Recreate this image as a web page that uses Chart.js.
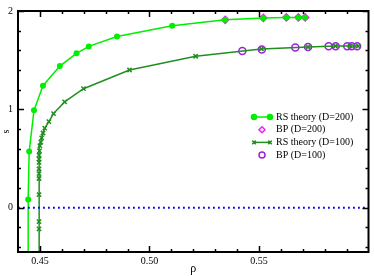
<!DOCTYPE html>
<html>
<head>
<meta charset="utf-8">
<script src="https://cdn.jsdelivr.net/npm/chart.js@4.4.1/dist/chart.umd.min.js"></script>
<style>
  html, body { margin: 0; padding: 0; background: #fff; }
  #wrap { width: 374px; height: 276px; }
</style>
</head>
<body>
<div id="wrap"><canvas id="chart" width="374" height="276"></canvas></div>
<script>
// RS theory, D=200 (first point is the vertical drop below the axis)
const rs200Rho = [0.44462, 0.44464, 0.4451, 0.4473, 0.4514, 0.4591, 0.4667, 0.4723, 0.4852, 0.5104, 0.5346, 0.552, 0.5625, 0.568, 0.5711];
const rs200S   = [-0.7, 0.083, 0.571, 0.99, 1.24, 1.44, 1.57, 1.64, 1.74, 1.85, 1.91, 1.93, 1.935, 1.935, 1.935];

// BP, D=200
const bp200Rho = [0.5346, 0.552, 0.5625, 0.568, 0.5711];
const bp200S   = [1.91, 1.93, 1.935, 1.935, 1.935];

// RS theory, D=100
const rs100Rho = [0.4496, 0.4496, 0.4496, 0.4496, 0.4496, 0.4496, 0.4496, 0.4496, 0.4496, 0.4496, 0.4498, 0.4500, 0.4504, 0.4508, 0.4514, 0.4522, 0.4541, 0.4562, 0.4613, 0.4699, 0.4909, 0.5211, 0.5511, 0.5724, 0.5849, 0.5917, 0.5953];
const rs100S   = [-0.7, -0.214, -0.142, 0.133, 0.297, 0.347, 0.396, 0.462, 0.495, 0.535, 0.578, 0.628, 0.667, 0.71, 0.76, 0.81, 0.875, 0.957, 1.076, 1.21, 1.40, 1.54, 1.614, 1.634, 1.644, 1.644, 1.644];

// BP, D=100
const bp100Rho = [0.5424, 0.5513, 0.5666, 0.5724, 0.5818, 0.585, 0.5903, 0.5923, 0.5948];
const bp100S   = [1.594, 1.608, 1.628, 1.634, 1.641, 1.641, 1.641, 1.641, 1.641];

const xTicks = [0.45, 0.50, 0.55];
const yTicks = [0, 1, 2];

const pts = (xs, ys) => xs.map((x, i) => ({ x: x, y: ys[i] }));
const serif = "'Liberation Serif', 'Times New Roman', serif";

// inward tick marks on all four sides plus the frame
const frameTicks = {
  id: "frameTicks",
  afterDatasetsDraw(chart) {
    const { ctx, chartArea: a, scales } = chart;
    const xs = scales.x, ys = scales.y;
    ctx.save();
    ctx.strokeStyle = "#000";
    ctx.lineWidth = 1.5;
    const tick = (v, len, axis) => {
      if (axis === "x") {
        const px = Math.round(xs.getPixelForValue(v)) + 0.5;
        ctx.beginPath();
        ctx.moveTo(px, a.bottom); ctx.lineTo(px, a.bottom - len);
        ctx.moveTo(px, a.top); ctx.lineTo(px, a.top + len);
        ctx.stroke();
      } else {
        const py = Math.round(ys.getPixelForValue(v)) + 0.5;
        ctx.beginPath();
        ctx.moveTo(a.left, py); ctx.lineTo(a.left + len, py);
        ctx.moveTo(a.right, py); ctx.lineTo(a.right - len, py);
        ctx.stroke();
      }
    };
    for (let i = 45; i < 60; i++) {
      tick(i / 100, i % 5 === 0 ? 6 : 3, "x");
    }
    for (let i = -2; i <= 10; i++) {
      tick(i / 5, i % 5 === 0 ? 6 : 3, "y");
    }
    ctx.lineWidth = 2;
    ctx.strokeRect(a.left, a.top, a.right - a.left, a.bottom - a.top);
    ctx.restore();
  }
};

// legend drawn inside the plot, right side
const innerLegend = {
  id: "innerLegend",
  afterDraw(chart) {
    const ctx = chart.ctx;
    const items = chart.data.datasets.filter(d => d.label);
    ctx.save();
    ctx.font = "10px " + serif;
    ctx.textBaseline = "middle";
    items.forEach((d, i) => {
      const y = 117 + i * 12.7;
      ctx.lineWidth = 1.5;
      if (d.showLine) {
        ctx.strokeStyle = d.borderColor;
        ctx.fillStyle = d.pointBackgroundColor || d.borderColor;
        ctx.beginPath();
        ctx.moveTo(254, y); ctx.lineTo(270, y);
        ctx.stroke();
        const opts = { pointStyle: d.pointStyle, radius: 2.5, borderWidth: 1.5 };
        Chart.helpers.drawPoint(ctx, opts, 254, y);
        Chart.helpers.drawPoint(ctx, opts, 270, y);
      } else {
        ctx.strokeStyle = d.pointBorderColor;
        ctx.fillStyle = "rgba(0,0,0,0)";
        Chart.helpers.drawPoint(ctx, { pointStyle: d.pointStyle, radius: 3, borderWidth: 1.5 }, 262, y);
      }
      ctx.fillStyle = "#000";
      ctx.fillText(d.label, 276, y);
    });
    ctx.restore();
  }
};

const lightGreen = "#00ee00";
const darkGreen = "#1f8f1f";

new Chart(document.getElementById("chart"), {
  type: "scatter",
  data: {
    datasets: [
      {
        label: "",
        data: pts([0.44, 0.6], [0, 0]),
        showLine: true,
        borderColor: "#0000ff",
        borderWidth: 1.8,
        borderDash: [1.8, 3.2],
        pointRadius: 0,
      },
      {
        label: "RS theory (D=200)",
        data: pts(rs200Rho, rs200S),
        showLine: true,
        borderColor: lightGreen,
        backgroundColor: lightGreen,
        borderWidth: 1.5,
        pointStyle: "circle",
        pointRadius: 3,
        pointBackgroundColor: lightGreen,
        pointBorderColor: lightGreen,
        pointBorderWidth: 0,
      },
      {
        label: "BP (D=200)",
        data: pts(bp200Rho, bp200S),
        showLine: false,
        pointStyle: "rectRot",
        pointRadius: 3.5,
        pointBackgroundColor: "rgba(0,0,0,0)",
        pointBorderColor: "#ee22ee",
        pointBorderWidth: 1.5,
      },
      {
        label: "RS theory (D=100)",
        data: pts(rs100Rho, rs100S),
        showLine: true,
        borderColor: darkGreen,
        backgroundColor: darkGreen,
        borderWidth: 1.5,
        pointStyle: "crossRot",
        pointRadius: 3,
        pointBorderColor: darkGreen,
        pointBorderWidth: 1.5,
      },
      {
        label: "BP (D=100)",
        data: pts(bp100Rho, bp100S),
        showLine: false,
        pointStyle: "circle",
        pointRadius: 3.5,
        pointBackgroundColor: "rgba(0,0,0,0)",
        pointBorderColor: "#a020e0",
        pointBorderWidth: 1.5,
      },
    ],
  },
  options: {
    responsive: false,
    animation: false,
    layout: { padding: { top: 4, right: 1, left: 0, bottom: 0 } },
    plugins: {
      legend: { display: false },
      tooltip: { enabled: false },
    },
    scales: {
      x: {
        type: "linear",
        min: 0.44,
        max: 0.6,
        grid: { display: false, drawTicks: false },
        border: { display: false },
        afterBuildTicks: (s) => { s.ticks = xTicks.map(v => ({ value: v })); },
        afterFit: (s) => { s.height = 24; },
        ticks: {
          padding: 3,
          color: "#000",
          font: { family: serif, size: 10 },
          callback: (v) => v.toFixed(2),
        },
        title: {
          display: true,
          text: "ρ",
          color: "#000",
          padding: 0,
          font: { family: serif, size: 12 },
        },
      },
      y: {
        type: "linear",
        min: -0.45,
        max: 2,
        grid: { display: false, drawTicks: false },
        border: { display: false },
        afterBuildTicks: (s) => { s.ticks = yTicks.map(v => ({ value: v })); },
        afterFit: (s) => { s.width = 18; },
        ticks: {
          padding: 5,
          color: "#000",
          font: { family: serif, size: 10 },
          callback: (v) => String(v),
        },
        title: {
          display: true,
          text: "s",
          color: "#000",
          padding: 0,
          font: { family: serif, size: 10 },
        },
      },
    },
  },
  plugins: [frameTicks, innerLegend],
});
</script>
</body>
</html>
